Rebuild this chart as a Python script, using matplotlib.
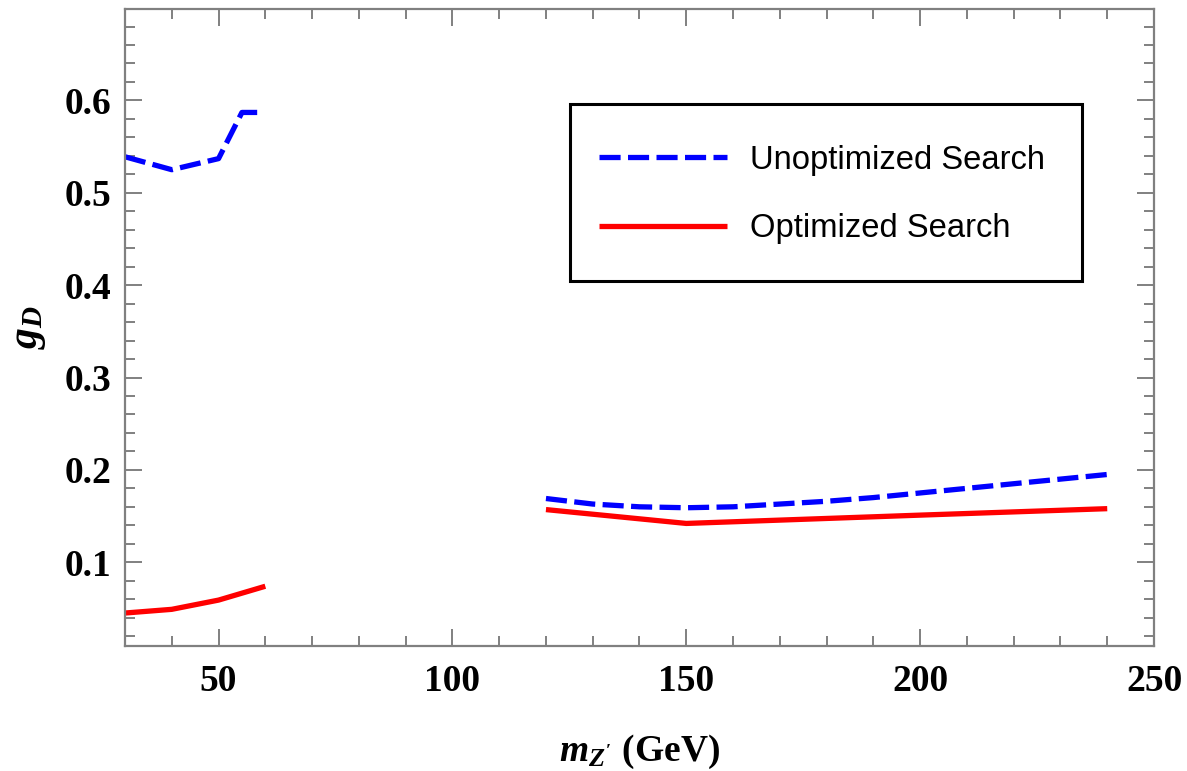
import matplotlib
matplotlib.use("Agg")
import matplotlib.pyplot as plt
from matplotlib.ticker import MultipleLocator
from matplotlib.patches import Rectangle

# ---- data ----
unopt_low_x = [30, 40, 50, 55, 59]
unopt_low_y = [0.539, 0.525, 0.537, 0.587, 0.587]
unopt_high_x = [120, 130, 140, 150, 160, 170, 180, 190, 200, 210, 220, 230, 240]
unopt_high_y = [0.169, 0.163, 0.160, 0.159, 0.160, 0.163, 0.166, 0.170, 0.175, 0.180, 0.185, 0.190, 0.195]
opt_low_x = [30, 40, 50, 60]
opt_low_y = [0.045, 0.049, 0.059, 0.074]
opt_high_x = [120, 150, 200, 240]
opt_high_y = [0.157, 0.142, 0.151, 0.158]
labels = ["Unoptimized Search", "Optimized Search"]
x_ticks = [50, 100, 150, 200, 250]
y_ticks = [0.1, 0.2, 0.3, 0.4, 0.5, 0.6]

plt.rcParams['mathtext.fontset'] = 'custom'
plt.rcParams['mathtext.rm'] = 'Liberation Serif:bold'
plt.rcParams['mathtext.it'] = 'Liberation Serif:italic:bold'
plt.rcParams['mathtext.bf'] = 'Liberation Serif:bold'

fig = plt.figure(figsize=(11.87, 7.71), dpi=100)
ax = fig.add_axes([125/1187, 1-646/771, (1154-125)/1187, (646-9)/771])

lw = 3.8
dash = (4, 1.4)
l1, = ax.plot(unopt_low_x, unopt_low_y, color='#0000ff', lw=lw, dashes=dash, dash_capstyle='butt')
ax.plot(unopt_high_x, unopt_high_y, color='#0000ff', lw=lw, dashes=dash, dash_capstyle='butt')
l2, = ax.plot(opt_low_x, opt_low_y, color='#ff0000', lw=lw, solid_capstyle='butt')
ax.plot(opt_high_x, opt_high_y, color='#ff0000', lw=lw, solid_capstyle='butt')

ax.set_xlim(30, 250)
ax.set_ylim(0.0093, 0.699)
ax.xaxis.set_minor_locator(MultipleLocator(10))
ax.yaxis.set_minor_locator(MultipleLocator(0.02))
ax.set_xticks(x_ticks)
ax.set_yticks(y_ticks)
ax.set_xticklabels([str(v) for v in x_ticks])
ax.set_yticklabels([f"{v:.1f}" for v in y_ticks])

gray = '#808080'
for s in ax.spines.values():
    s.set_color(gray)
    s.set_linewidth(1.6)
ax.tick_params(which='both', direction='in', top=True, right=True, color=gray, width=1.4)
ax.tick_params(which='major', length=12)
ax.tick_params(which='minor', length=7)
ax.tick_params(axis='y', which='major', pad=10)
ax.tick_params(axis='x', which='major', pad=13)
for t in ax.get_xticklabels() + ax.get_yticklabels():
    t.set_fontfamily('Liberation Serif')
    t.set_fontweight('bold')
    t.set_fontsize(27)

ax.set_xlabel(r"$m_{Z'}$ (GeV)", fontfamily='Liberation Serif', fontweight='bold', fontsize=27, labelpad=24)
ax.set_ylabel(r"$g_D$", fontfamily='Liberation Serif', fontweight='bold', fontsize=30, labelpad=12)

# legend frame
x0 = (570-125)/1029; x1 = (1082-125)/1029
y1 = (646-104)/637; y0 = (646-281)/637
ax.add_patch(Rectangle((x0, y0), x1-x0, y1-y0, transform=ax.transAxes, fill=True,
                       facecolor='white', edgecolor='black', lw=2.2, zorder=4))
leg = ax.legend([l1, l2], labels, loc='center', bbox_to_anchor=((x0+x1)/2 - 0.004, (y0+y1)/2 - 0.003),
                frameon=False, prop={'family': 'Liberation Sans', 'size': 23.6},
                handlelength=3.9, handletextpad=0.7, labelspacing=1.15)
leg.set_zorder(5)

fig.savefig("out.png", dpi=100)
